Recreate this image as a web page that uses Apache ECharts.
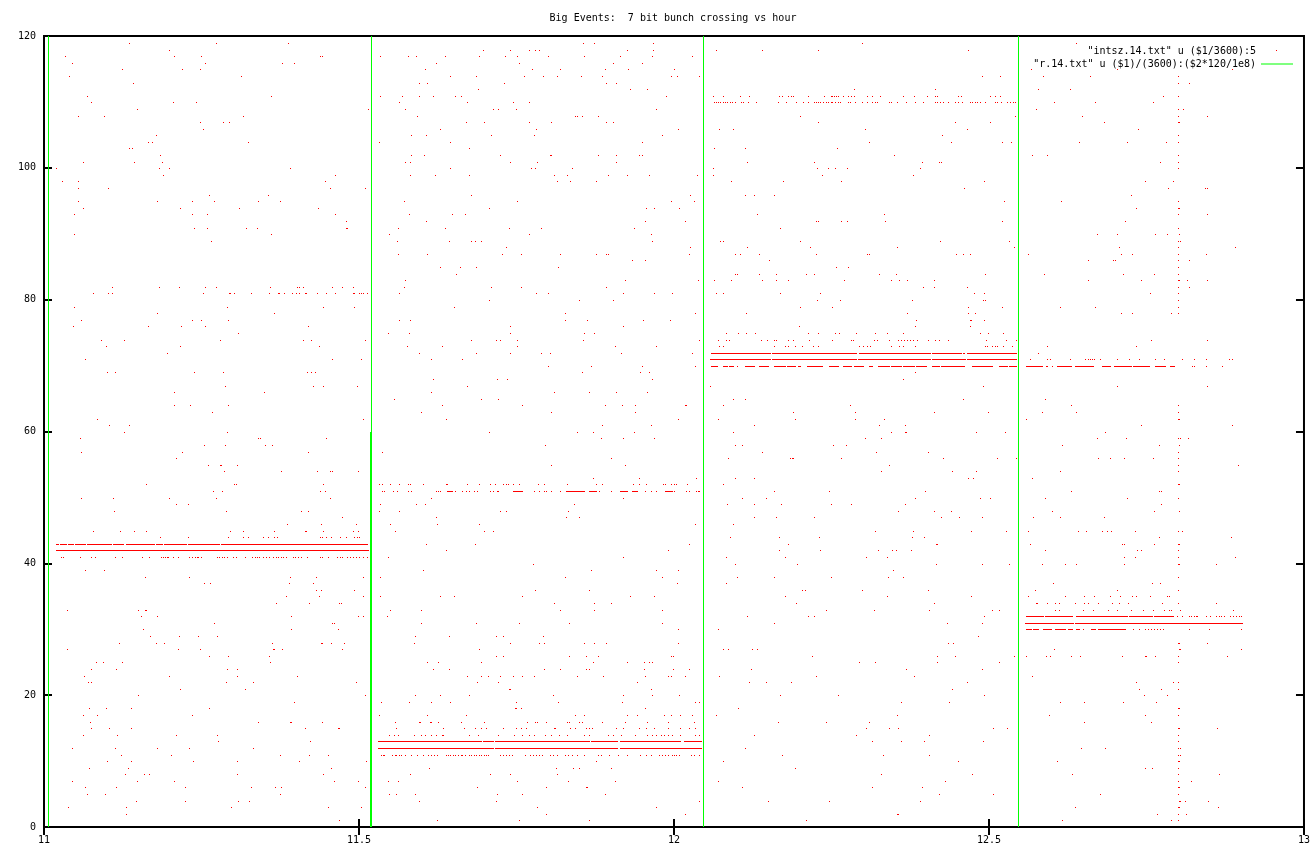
<!DOCTYPE html>
<html><head><meta charset="utf-8">
<style>html,body{margin:0;padding:0;background:#fff}#c{width:1313px;height:854px}</style>
<script src="https://cdn.jsdelivr.net/npm/echarts@6/dist/echarts.min.js"></script>
</head><body><div id="c"></div>
<script>
const titleText = 'Big Events:  7 bit bunch crossing vs hour';
const legendDots = '"intsz.14.txt" u ($1/3600):5';
const legendLine = '"r.14.txt" u ($1)/(3600):($2*120/1e8)';
const xTicks = {min: 11, max: 13, step: 0.5};
const yTicks = {min: 0, max: 120, step: 20};
// Sparse events: [bunch crossing, [milli-hours past 11:00, ...]]
const eventsUpperLeft = [
[119,[137,274,388,856,873,967]],[118,[200,697,741,770,780,787,926,967]],
[117,[36,209,251,440,442,534,579,591,637,691,732,752,801,858,914,966]],
[116,[46,258,379,398,623,755,903,949]],[115,[126,221,249,605,775,820,890,928,1000]],
[114,[42,314,646,686,762,792,814,852,886,996]],[113,[143,596,609,731,892,908]],[112,[690,931,957]],
[111,[70,362,534,570,596,618,653,662,988]],[110,[77,207,243,565,673,745,770]],
[109,[149,515,574,713,722,750,971]],[108,[56,97,317,593,843,847,854,879]],
[107,[249,286,295,670,699,770,806,893,903]],[106,[254,630,781]],[105,[179,584,607,711,778,981]],
[104,[167,173,325,533,646,950]],[103,[137,141,675]],[102,[186,584,604,724,803,806,880,908,944,950]],
[101,[64,145,189,574,582,740,783,908]],[100,[21,184,200,392,646,773,780,838]],
[99,[191,464,582,621,675,810,830,896,925,961]],[98,[31,57,447,815,835,877]],[97,[57,103,455,510]],
[96,[263,357,678]],[95,[56,182,237,271,341,376,572,751,995]],[94,[64,218,311,436,707,955,968]],
[93,[50,237,260,464,580,648,669]],[92,[480,607,954]],[91,[240,260,322,339,480,482,563,637,738,790,936]],
[90,[50,362,548,770,963]],[89,[267,561,643,678,685,695,965]],[88,[734]],[87,[563,609,727,757,819,877,893,896]],
[86,[933,954]],[85,[630,661,686,817]],[84,[655]],[83,[574,923]],
[82,[110,184,216,257,274,360,403,406,412,459,474,491,572,711,757,892]],
[81,[80,103,110,254,295,297,303,330,359,373,375,382,395,401,406,415,417,434,449,463,491,494,502,505,507,514,565,781,801,919,969,997]],
[80,[707,849,904]],[79,[50,292,444,493,651]],[78,[181,366,827]],[77,[61,237,251,293,565,582,827,863,951,993]],
[76,[48,167,219,257,420,740,919]],[75,[309,547,580,741,858,873]],[74,[93,129,281,413,425,510,679,718,725,752,856]],
[73,[100,218,438,577,632,751,906,972]],[72,[197,596,686,741,789,803,916]],[71,[67,458,505,616,665]],[70,[801,868,949]],
[69,[102,115,240,286,419,426,431,854,946,960]],[68,[618,719,735,966]],[67,[289,428,445,498,673]],
[66,[208,350,615,810,865,908,957]],[65,[556,694,722]],[64,[209,234,293,632,759,890,917,939]],
[63,[268,600,805,939]],[62,[86,508,639]],[61,[105,137,886,963]]];
const eventsUpperRight = [
[119,[1298,1637]],[118,[1067,1140,1228,1466,1954]],[117,[1029]],[115,[1000,1565,1701,1884]],
[114,[1005,1040,1487,1517,1584,1658,1798]],[113,[1798,1816]],[112,[1285,1414,1577,1627]],
[111,[1061,1078,1105,1118,1167,1171,1180,1185,1189,1213,1238,1248,1251,1254,1257,1260,1268,1276,1281,1285,1305,1313,1327,1362,1380,1401,1413,1417,1449,1455,1500,1508,1517,1775,1798]],
[110,[1064,1066,1070,1073,1077,1080,1084,1088,1092,1096,1106,1110,1117,1130,1165,1178,1194,1204,1212,1221,1225,1228,1232,1236,1240,1244,1248,1251,1255,1259,1263,1276,1279,1286,1297,1306,1313,1318,1321,1340,1343,1353,1367,1381,1395,1413,1417,1421,1426,1434,1445,1449,1456,1468,1472,1476,1480,1484,1493,1508,1512,1518,1528,1532,1537,1540,1602,1667,1759]],
[109,[1574,1798,1806]],[108,[1200,1540,1646,1798,1844]],[107,[1228,1445,1501,1681,1798,1800]],
[106,[1007,1072,1093,1302,1464,1735]],[105,[1425,1798]],[104,[1309,1438,1519,1534,1642,1718,1779,1798]],
[103,[1064,1112,1258]],[102,[1349,1567,1591,1798]],[101,[1115,1221,1392,1420,1423,1770,1798]],
[100,[1061,1227,1244,1255,1274,1390,1798]],[99,[1037,1061,1235,1379]],[98,[1091,1172,1265,1491,1746,1790]],
[97,[1459,1783,1841,1844]],[96,[1026,1112,1126,1159,1723]],[95,[1031,1523,1613,1798]],[94,[1008,1732,1798,1800]],
[93,[1132,1332,1798,1844]],[92,[1018,1225,1228,1265,1274,1334,1519,1715]],[91,[1168,1798]],[90,[1670,1701,1762,1781,1800]],
[89,[1073,1078,1200,1422,1531,1798,1801]],[88,[1026,1115,1216,1353,1539,1704,1798,1889]],
[87,[1024,1097,1105,1135,1225,1306,1309,1447,1457,1468,1560,1708,1725,1798,1843]],
[86,[1151,1656,1696,1699,1798,1816]],[85,[1257,1276,1798]],
[84,[1097,1099,1135,1161,1209,1221,1325,1352,1493,1586,1711,1760,1798]],
[83,[1038,1063,1091,1140,1162,1181,1270,1343,1356,1369,1412,1656,1740,1798,1800,1813,1844]],
[82,[1395,1412,1464,1798,1816]],[81,[1066,1077,1168,1232,1475,1491,1754,1798]],[80,[1227,1263,1377,1490,1493,1798]],
[79,[1200,1251,1466,1519,1612,1667,1798]],[78,[1033,1114,1369,1466,1477,1708,1725,1787,1798]],
[77,[1383,1468,1470,1491]],[76,[1198,1381,1469]],
[75,[1083,1102,1114,1129,1212,1228,1255,1262,1289,1319,1338,1363,1484,1498,1521]],
[74,[1040,1070,1083,1087,1138,1148,1158,1161,1181,1188,1214,1251,1281,1284,1317,1322,1341,1355,1360,1365,1369,1374,1378,1385,1403,1414,1420,1434,1494,1526,1541,1756,1844]],
[73,[1072,1078,1159,1175,1181,1191,1203,1220,1228,1293,1299,1306,1311,1343,1356,1362,1381,1493,1496,1503,1508,1512,1521,1535,1590,1591,1732]],
[72,[1029,1577]],
[71,[1564,1591,1595,1627,1651,1655,1658,1662,1665,1675,1701,1721,1737,1762,1776,1805,1824,1843,1879,1884]],
[70,[1033,1820,1824,1843,1868]],[69,[1381]],[68,[1362]],[67,[1057,1490,1701,1844]],[65,[1093,1113,1458,1588]],
[64,[1017,1019,1078,1278,1628,1798]],[63,[1188,1286,1411,1498,1582,1637,1798]],
[62,[1007,1070,1192,1286,1332,1558,1798,1800]],[61,[1126,1325,1366,1740,1884]]];
const eventsLowerLeft = [
[60,[129,292,707,847,872,936]],[59,[59,341,345,449,884,919,968]],[58,[255,289,353,363,795]],[57,[61,221,420,537]],
[56,[212,900]],[55,[262,281,283,308,806,923]],[54,[287,377,434,455,459,499]],[53,[872,944]],
[52,[164,303,306,444,533,538,550,564,579,582,602,639,641,673,692,709,717,730,734,737,745,754,784,794,830,876,886,935,944,955,982,986,995]],
[51,[270,284,440,447,538,541,555,561,579,583,623,626,629,654,664,670,676,683,688,709,713,719,722,779,786,794,798,806,820,882,900,954,963,972]],
[50,[61,112,200,274,455,616,920]],[49,[212,230,534,591,605,841]],[48,[113,290,409,421,533,564,725,734,832]],
[47,[474,623,829,850]],[46,[387,441,496,550,624,692]],[45,[80,122,145,164,297,317,366,415,418,445,491,499,558,699,713]],
[44,[186,230,293,317,325,349,357,366,372,439,442,449,457,471,480,493,498,502]],[43,[607,685]],[42,[639,991]],
[41,[29,33,59,77,83,115,126,158,168,188,191,194,197,199,207,214,232,236,241,244,247,251,277,280,284,287,292,302,306,320,332,337,340,343,349,354,359,365,369,373,377,381,386,396,400,404,410,419,439,443,452,466,471,475,483,487,491,496,502,507,514,547,920]],
[40,[776]],[39,[67,97,602,868,971]],[38,[162,232,392,433,507,534,827,981]],[37,[255,265,390,429]],[36,[433,441,493,780,866]],
[35,[385,438,507,534,629,651,760,931,968]],[34,[369,422,469,472,810,873,901]],[33,[39,151,162,164,600,550,820,873,981]],
[32,[156,181,393,499,507,545]],[31,[271,459,461,600,686,754,834,981]],[30,[159,393,468]],
[29,[170,216,246,276,590,643,718,730,792]],[28,[121,179,192,363,441,443,457,477,588,740,787,794,857,873,892]],
[27,[39,214,249,365,367,380,475,691]],[26,[263,293,359,718,729,833,860,880,995,998]],
[25,[85,96,126,360,609,626,694,872,926,952,961,965]],[24,[77,116,292,308,618,643,794,820,860,865,952,998]],
[23,[66,200,308,403,672,695,705,724,745,760,778,847,887,954,991,995]],[22,[72,77,290,334,496,688,722,941]],
[21,[218,320,738,740,963]],[20,[151,510,590,629,676,808,919,966]],[19,[398,536,580,616,645,750,817,917]],
[18,[73,100,140,263,748,750,757,954]],[17,[64,86,237,533,609,670,843,857,926,941,985,995]],
[16,[75,341,392,394,442,558,597,598,613,616,626,662,699,767,780,783,798,830,833,850,854,886,923,958,990]],
[15,[77,105,140,415,468,470,560,635,667,685,695,703,730,750,757,765,810,812,836,844,860,865,870,908,919,944,955,968,990]],
[14,[64,118,211,276,548,556,563,588,600,605,615,623,632,635,675,689,722,746,760,770,778,795,806,818,830,858,866,895,904,916,939,958,965,971,979,985,991,997]],
[13,[278,423]],[12,[47,115,182,232,333]],
[11,[124,204,376,422,452,536,539,541,554,558,560,564,568,574,584,593,602,611,616,620,625,639,642,646,650,654,658,662,665,669,675,679,683,687,691,695,699,703,706,724,729,734,739,743,764,772,777,782,786,791,803,808,814,827,832,838,847,858,879,884,897,911,925,947,955,963,976,981,986,991,997]],
[10,[102,140,238,308,406,512,876]],[9,[73,135,457,612,813,840,849,901]],[8,[131,161,168,308,444,582,709,740,814]],
[7,[47,149,209,461,499,547,563,751,832,906]],[6,[67,116,225,330,368,377,510,688,798,861,863]],
[5,[70,99,376,548,560,590,719,760,890]],[4,[148,225,309,327,596,718]],[3,[40,133,298,452,505,783,972]],[2,[133,797]],[1,[469,624,754,866]]];
const eventsLowerRight = [
[60,[1094,1343,1366,1368,1479,1524,1683]],[59,[1303,1328,1670,1716,1798,1801,1814]],[58,[1096,1108,1252,1273,1615,1768,1800]],
[57,[1140,1320,1403,1798]],[56,[1086,1184,1187,1189,1265,1426,1512,1542,1672,1691,1713,1759,1798]],[55,[1341,1798,1893]],
[54,[1328,1440,1479,1612,1798]],[53,[1035,1097,1126,1466,1474,1567]],[52,[1000,1003,1021,1077,1798,1800]],
[51,[1000,1019,1024,1035,1038,1040,1158,1246,1398,1629,1768,1771]],[50,[1108,1145,1382,1485,1501,1588,1718,1798]],
[49,[1084,1126,1170,1248,1281,1366,1771]],[48,[1355,1412,1439,1599,1760,1800]],[47,[1127,1162,1222,1423,1452,1488,1569,1612,1681]],
[46,[1033,1094]],[45,[1319,1379,1471,1526,1560,1640,1653,1678,1686,1692,1730,1798,1805]],[44,[1089,1167,1230,1377,1396,1768,1882]],
[43,[1024,1181,1415,1417,1563,1709,1713,1760,1798,1800]],[42,[1167,1232,1323,1346,1352,1376,1588,1734,1740,1798]],
[41,[1082,1175,1304,1338,1713,1730,1798,1889]],[40,[1097,1195,1415,1488,1531,1582,1619,1637,1713,1798,1800,1859]],
[39,[1007,1347]],[38,[1100,1158,1248,1339,1362,1798]],[37,[1005,1082,1600,1757,1770]],[36,[1202,1207,1297,1403,1572,1702,1798]],
[35,[1175,1338,1471,1560,1619,1650,1665,1691,1706,1725,1732,1754,1781,1784]],
[34,[1194,1412,1574,1575,1591,1604,1609,1635,1650,1655,1672,1694,1705,1719,1773,1798,1859]],
[33,[1241,1317,1404,1504,1515,1604,1610,1648,1664,1687,1702,1724,1743,1759,1776,1784,1787,1801,1885]],
[32,[1116,1212,1221,1491,1796,1804,1815,1819,1823,1827,1829,1842,1849,1858,1863,1866,1871,1880,1886,1890,1894,1898]],
[31,[1159,1433,1487]],[30,[1007,1070,1648,1727,1737,1746,1750,1755,1760,1765,1770,1775,1815,1847,1898]],[29,[1482]],
[28,[1007,1434,1442,1798,1800,1844]],[27,[1078,1086,1124,1132,1602,1800,1802,1898]],
[26,[1218,1417,1445,1539,1558,1589,1596,1629,1643,1709,1746,1748,1762,1798,1876]],[25,[1293,1319,1417,1514,1798]],
[24,[1024,1122,1368,1487]],[23,[1017,1072,1225,1380,1567]],[22,[1118,1146,1186,1464,1732,1790,1798]],[21,[1440,1737,1771,1798]],
[20,[1008,1168,1260,1491,1745,1781]],[19,[1033,1040,1360,1436,1612,1650,1711,1764]],[18,[1102,1798,1800]],
[17,[1010,1029,1067,1353,1594,1746,1798]],[16,[1031,1164,1241,1309,1649,1755]],
[15,[1010,1024,1033,1304,1341,1355,1505,1528,1798,1800,1860]],[14,[1010,1033,1040,1126,1289,1404,1798]],
[13,[1313,1360,1396,1490,1798]],[12,[1113,1644,1683,1798,1801]],[11,[1000,1003,1008,1027,1032,1040,1171,1331,1404,1798,1801]],
[10,[1077,1449,1607,1798,1800]],[9,[1192,1746,1757,1798]],[8,[1328,1472,1630,1798,1863]],[7,[1070,1429,1798,1819]],
[6,[1108,1313,1392,1798,1800]],[5,[1419,1505,1675,1798]],[4,[1040,1149,1246,1390,1800,1802,1810,1846]],[3,[1635,1798,1800,1862]],
[2,[1017,1353,1355,1765,1798,1811]],[1,[1209,1615,1787,1798]]];
// Unbroken runs of events: [bunch crossing, first milli-hour, last milli-hour]
const runs43 = [[43,21,24],[43,27,32],[43,33,38],[43,40,49],[43,52,59],[43,60,67],[43,70,109],[43,111,122],[43,124,128],[43,132,140],[43,141,146],[43,148,157],[43,159,176],[43,179,190],[43,192,203],[43,205,219],[43,220,228],[43,230,236],[43,238,279],[43,282,311],[43,313,338],[43,339,356],[43,357,371],[43,373,389],[43,391,412],[43,413,434],[43,436,472],[43,473,488],[43,490,504],[43,506,514]];
const runs42 = [[42,21,515]];
const runs51 = [[51,640,648],[51,745,760],[51,829,858],[51,866,877],[51,915,925],[51,933,941],[51,986,997]];
const runs13 = [[13,532,560],[13,562,584],[13,585,689],[13,690,695],[13,698,714],[13,717,727],[13,728,794],[13,796,822],[13,825,866],[13,869,910],[13,914,945],[13,947,1000],[13,1000,1010],[13,1016,1029],[13,1030,1043]];
const runs12 = [[12,532,714],[12,717,822],[12,825,910],[12,914,1013],[12,1014,1043]];
const runs72 = [[72,1059,1152],[72,1155,1267],[72,1269,1289],[72,1293,1405],[72,1408,1454],[72,1457,1460],[72,1464,1516],[72,1517,1542]];
const runs71 = [[71,1057,1152],[71,1155,1289],[71,1292,1406],[71,1408,1461],[71,1464,1542]];
const runs70 = [[70,1059,1061],[70,1064,1068],[70,1077,1084],[70,1087,1093],[70,1099,1100],[70,1112,1126],[70,1134,1149],[70,1158,1175],[70,1179,1191],[70,1196,1200],[70,1211,1235],[70,1246,1260],[70,1267,1281],[70,1285,1299],[70,1309,1313],[70,1323,1340],[70,1343,1360],[70,1363,1380],[70,1383,1399],[70,1408,1420],[70,1423,1438],[70,1441,1459],[70,1472,1487],[70,1490,1504],[70,1514,1527],[70,1530,1542],[70,1557,1582],[70,1589,1590],[70,1598,1599],[70,1606,1628],[70,1635,1664],[70,1678,1690],[70,1697,1724],[70,1727,1753],[70,1762,1777],[70,1786,1792]];
const runs32 = [[32,1557,1584],[32,1587,1611],[32,1612,1630],[32,1636,1678],[32,1679,1718],[32,1721,1743],[32,1745,1757],[32,1760,1791]];
const runs31 = [[31,1556,1632],[31,1635,1792],[31,1794,1899]];
const runs30 = [[30,1557,1565],[30,1569,1577],[30,1584,1597],[30,1603,1619],[30,1624,1630],[30,1637,1641],[30,1660,1667],[30,1671,1686],[30,1688,1715]];
// Beam-intensity trace: [hour, low, high]
const traceSegments = [[11.007,0,120],[11.5194,0,120],[11.5178,0,60],[12.0475,0,120],[12.5472,0,120]];

// Readings were taken on two crops; this aligns each crop's reading with the axis ticks.
const calibrated = m => m < 1000 ? m * 1.00235 - 1.6 : 1000.8 + (m - 1000) * 1.00235;
const toHour = m => 11 + calibrated(m) / 1000;
const dotData = [...eventsUpperLeft, ...eventsUpperRight, ...eventsLowerLeft, ...eventsLowerRight]
  .flatMap(([y, ms]) => ms.map(m => [toHour(m), y]));
const runData = [...runs43, ...runs42, ...runs51, ...runs13, ...runs12, ...runs72, ...runs71, ...runs70, ...runs32, ...runs31, ...runs30]
  .map(([y, a, b]) => [toHour(a), toHour(b), y]);

const FONT = '"DejaVu Sans Mono", monospace';
const RED = '#ff0000', GREEN = '#00ff00';
const snapRow = py => Math.ceil(py - (py - 36) * 0.0006);
const hiddenAxis = {axisLabel:{show:false}, axisLine:{show:false}, splitLine:{show:false},
  axisTick:{inside:true,length:8,lineStyle:{color:'#000',width:2}}};
const shownAxis = {axisLabel:{color:'#000',fontFamily:FONT,fontSize:10,margin:8},
  axisLine:{show:false}, splitLine:{show:false},
  axisTick:{inside:true,length:8,lineStyle:{color:'#000',width:2}}};
const xBase = {type:'value',min:xTicks.min,max:xTicks.max,interval:xTicks.step};
const yBase = {type:'value',min:yTicks.min,max:yTicks.max,interval:yTicks.step};

const chart = echarts.init(document.getElementById('c'), null, {renderer:'canvas'});
chart.setOption({
  animation:false, backgroundColor:'#fff',
  title:{text:titleText,left:668,top:8,textAlign:'center',
    textStyle:{fontFamily:FONT,fontSize:10,fontWeight:'normal',color:'#000'}},
  grid:{left:44,right:8,top:36,bottom:27,show:true,borderColor:'#000',borderWidth:2,backgroundColor:'transparent'},
  legend:{orient:'vertical',right:20,top:45,padding:0,itemGap:1,itemWidth:32,itemHeight:13,align:'right',selectedMode:false,
    textStyle:{fontFamily:FONT,fontSize:10,color:'#000',padding:[0,0,0,0]},
    data:[{name:legendDots,icon:'none'},{name:legendLine,icon:'path://M0,0L0,0Z M0,6H32V7H0Z M0,13L0,13Z',itemStyle:{color:GREEN}}]},
  xAxis:[{...xBase,...shownAxis,position:'bottom'},{...xBase,...hiddenAxis,position:'top'}],
  yAxis:[{...yBase,...shownAxis,position:'left'},{...yBase,...hiddenAxis,position:'right'}],
  series:[
    {type:'custom',name:legendDots,silent:true,clip:true,data:dotData,itemStyle:{color:RED},
      renderItem:(p,api)=>{const c=api.coord([api.value(0),api.value(1)]);
        return {type:'rect',shape:{x:Math.floor(c[0]),y:snapRow(c[1]),width:1,height:1},style:{fill:RED}};}},
    {type:'custom',name:'runs',silent:true,clip:true,data:runData,
      renderItem:(p,api)=>{const a=api.coord([api.value(0),api.value(2)]),b=api.coord([api.value(1),api.value(2)]);
        const x=Math.floor(a[0]);
        return {type:'rect',shape:{x:x,y:snapRow(a[1]),width:Math.floor(b[0])+1-x,height:1},style:{fill:RED}};}},
    {type:'custom',name:legendLine,silent:true,clip:false,data:traceSegments,itemStyle:{color:GREEN},
      renderItem:(p,api)=>{const a=api.coord([api.value(0),api.value(1)]),b=api.coord([api.value(0),api.value(2)]);
        return {type:'rect',shape:{x:Math.floor(a[0]),y:Math.round(b[1]),width:1,height:Math.round(a[1])-Math.round(b[1])},style:{fill:GREEN}};}}
  ]
});
</script></body></html>
